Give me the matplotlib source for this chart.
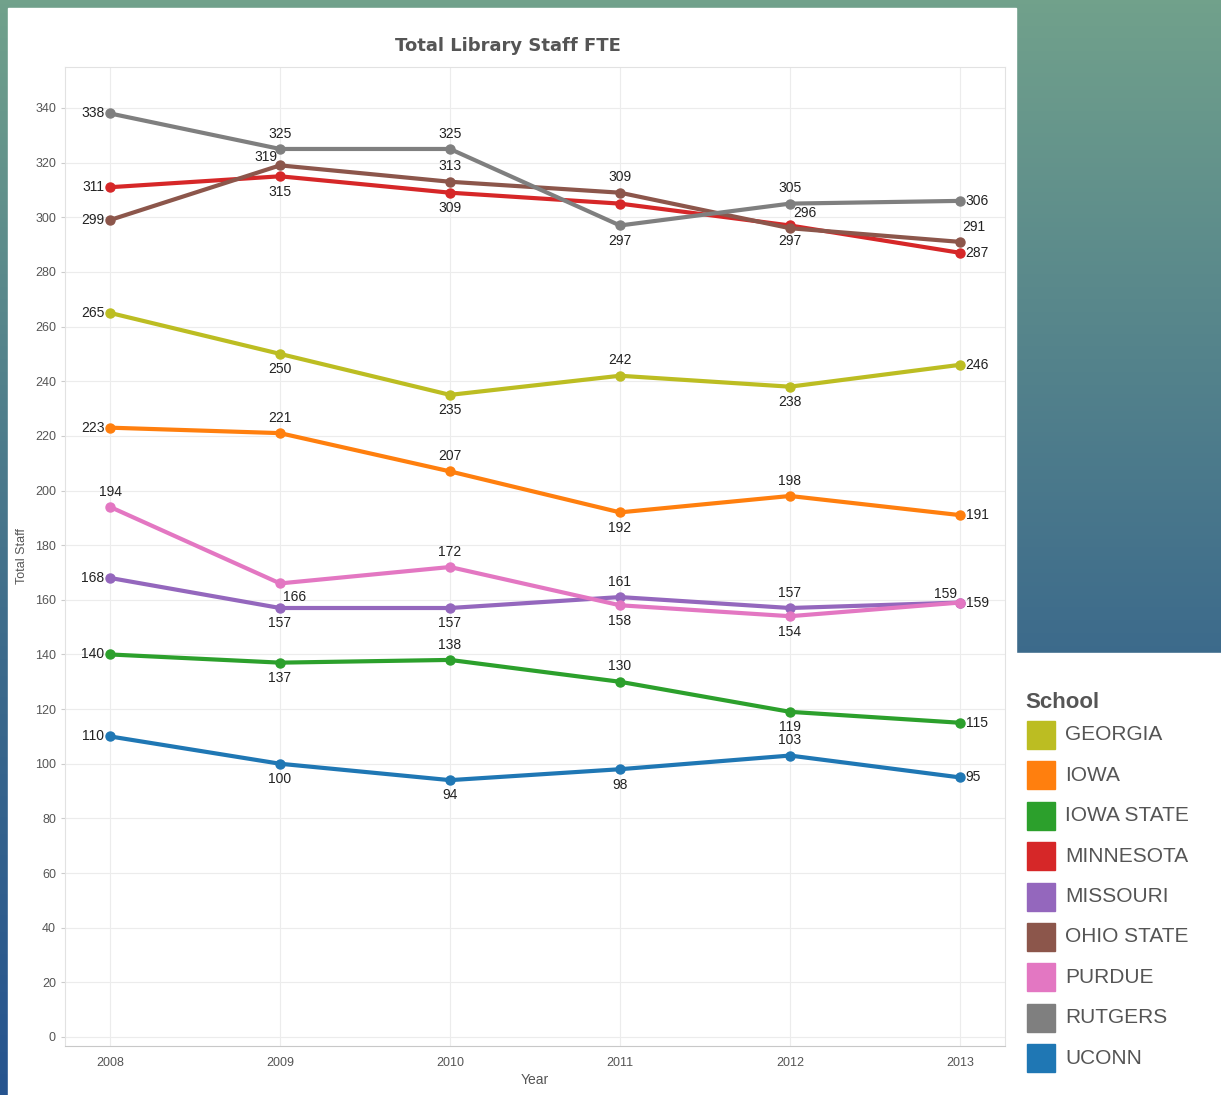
import numpy as np
import matplotlib.pyplot as plt
from matplotlib.colors import LinearSegmentedColormap
from matplotlib.patches import Rectangle

years = [2008, 2009, 2010, 2011, 2012, 2013]

schools = ["GEORGIA", "IOWA", "IOWA STATE", "MINNESOTA", "MISSOURI",
           "OHIO STATE", "PURDUE", "RUTGERS", "UCONN"]
georgia = [265, 250, 235, 242, 238, 246]
iowa = [223, 221, 207, 192, 198, 191]
iowa_state = [140, 137, 138, 130, 119, 115]
minnesota = [311, 315, 309, 305, 297, 287]
missouri = [168, 157, 157, 161, 157, 159]
ohio_state = [299, 319, 313, 309, 296, 291]
purdue = [194, 166, 172, 158, 154, 159]
rutgers = [338, 325, 325, 297, 305, 306]
uconn = [110, 100, 94, 98, 103, 95]

werte = [georgia, iowa, iowa_state, minnesota, missouri,
         ohio_state, purdue, rutgers, uconn]
farben = ["#bcbd22", "#ff7f0e", "#2ca02c", "#d62728", "#9467bd",
          "#8c564b", "#e377c2", "#7f7f7f", "#1f77b4"]

# label position per point: l=left, r=right, a=above, b=below, n=none,
# ur=upper right, ul=upper left, br=below right
pos = [
    ["l", "b", "b", "a", "b", "r"],
    ["l", "a", "a", "b", "a", "r"],
    ["l", "b", "a", "a", "b", "r"],
    ["l", "b", "b", "n", "b", "r"],
    ["l", "b", "b", "a", "a", "r"],
    ["l", "ul", "a", "a", "ur", "ur"],
    ["a", "br", "a", "b", "b", "ul"],
    ["l", "a", "a", "b", "a", "r"],
    ["l", "b", "b", "b", "a", "r"],
]
offs = {
    "l": ((-4, 0), "right", "center"),
    "r": ((4, 0), "left", "center"),
    "a": ((0, 6), "center", "bottom"),
    "b": ((0, -6), "center", "top"),
    "ur": ((2, 6), "left", "bottom"),
    "ul": ((-2, 1), "right", "bottom"),
    "br": ((2, -5), "left", "top"),
}

W, H = 1221, 1095
fig = plt.figure(figsize=(12.21, 10.95), dpi=100)

# gradient background + white panels
bg = fig.add_axes([0, 0, 1, 1], zorder=-1)
cmap = LinearSegmentedColormap.from_list(
    "bg", [(0, "#71a18b"), (0.6, "#3c6a8b"), (1, "#26548f")])
grad = np.linspace(0, 1, 256).reshape(-1, 1)
bg.imshow(grad, aspect="auto", cmap=cmap, extent=[0, 1, 0, 1], origin="upper")
bg.add_patch(Rectangle((8 / W, 0), (1016 - 8) / W, 1 - 8 / H,
                       transform=bg.transAxes, color="white"))
bg.add_patch(Rectangle((1016 / W, 0), 1 - 1016 / W, 1 - 653 / H,
                       transform=bg.transAxes, color="white"))
bg.set_axis_off()

ax = fig.add_axes([65 / W, 1 - 1046 / H, 940 / W, 979 / H])
ax.set_facecolor("white")
for s in ax.spines.values():
    s.set_color("#e2e2e2")
ax.spines["bottom"].set_color("#c8c8c8")

for name, y, c, p in zip(schools, werte, farben, pos):
    ax.plot(years, y, color=c, lw=3, marker="o", ms=6.5, solid_capstyle="round",
            zorder=3)
    for xv, yv, code in zip(years, y, p):
        if code == "n":
            continue
        o, ha, va = offs[code]
        ax.annotate(str(yv), (xv, yv), xytext=o, textcoords="offset points",
                    ha=ha, va=va, fontsize=10, color="#222222",
                    family="Liberation Sans", zorder=4)

ax.set_xlim(2007.735, 2013.265)
ax.set_ylim(-3.3, 355)
ax.set_xticks(years)
ax.set_yticks(np.arange(0, 341, 20))
ax.grid(True, color="#ececec", lw=0.8)
ax.set_axisbelow(True)
ax.tick_params(axis="both", colors="#cccccc", labelcolor="#555555",
               labelsize=9, length=3)
ax.tick_params(axis="x", length=0, pad=8)
for lab in ax.get_xticklabels() + ax.get_yticklabels():
    lab.set_family("Liberation Sans")
ax.set_xlabel("Year", fontsize=10, color="#555555", family="Liberation Sans",
              labelpad=3)
ax.set_ylabel("Total Staff", fontsize=9, color="#555555",
              family="Liberation Sans", labelpad=5)
fig.text(508 / W, 1 - 46 / H, "Total Library Staff FTE", fontsize=13,
         fontweight="bold", color="#555555", ha="center", va="center")

# legend
fig.text(1025 / W, 1 - 702 / H, "School", fontsize=16, fontweight="bold",
         color="#555555", family="Liberation Sans", va="center")
for i, (name, c) in enumerate(zip(schools, farben)):
    yc = 735 + i * 40.4
    fig.patches.append(Rectangle((1027 / W, 1 - (yc + 14) / H), 28 / W, 28 / H,
                                 transform=fig.transFigure, color=c))
    fig.text(1065 / W, 1 - yc / H, name, fontsize=15, color="#555555",
             family="Liberation Sans", va="center")

fig.savefig("out.png", dpi=100)
